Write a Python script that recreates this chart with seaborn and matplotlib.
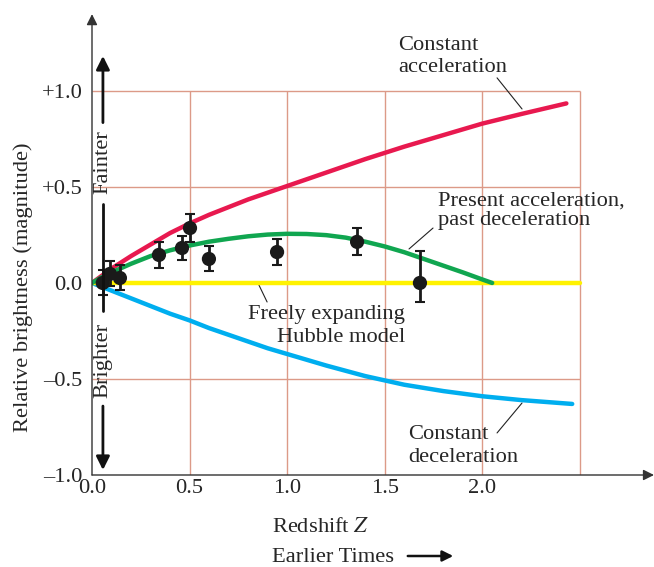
import matplotlib
matplotlib.use("Agg")
import matplotlib.pyplot as plt
import seaborn as sns
import numpy as np
import pandas as pd

# ---------------- data ----------------
red_x = [0, 0.1, 0.2, 0.3, 0.4, 0.5, 0.6, 0.7, 0.8, 0.9, 1.0, 1.2, 1.4, 1.6, 1.8, 2.0, 2.2, 2.43]
red_y = [0, 0.075, 0.14, 0.2, 0.26, 0.31, 0.355, 0.395, 0.435, 0.47, 0.505, 0.575, 0.645,
         0.71, 0.77, 0.83, 0.88, 0.935]

green_x = [0, 0.05, 0.1, 0.2, 0.3, 0.4, 0.5, 0.6, 0.7, 0.8, 0.9, 1.0, 1.1, 1.2, 1.3, 1.4,
           1.5, 1.6, 1.7, 1.8, 1.9, 2.0, 2.05]
green_y = [0, 0.03, 0.055, 0.10, 0.14, 0.17, 0.195, 0.215, 0.23, 0.243, 0.252, 0.256,
           0.255, 0.249, 0.236, 0.215, 0.19, 0.16, 0.125, 0.09, 0.055, 0.018, 0.0]

blue_x = [0, 0.1, 0.2, 0.3, 0.4, 0.5, 0.6, 0.7, 0.8, 0.9, 1.0, 1.2, 1.4, 1.6, 1.8, 2.0, 2.2, 2.46]
blue_y = [0, -0.04, -0.08, -0.12, -0.16, -0.195, -0.235, -0.27, -0.305, -0.34, -0.37,
          -0.43, -0.485, -0.53, -0.563, -0.59, -0.61, -0.63]

yellow_x = [0, 2.5]
yellow_y = [0, 0]

obs_z = [0.055, 0.092, 0.143, 0.343, 0.461, 0.502, 0.599, 0.948, 1.358, 1.680]
obs_m = [0.0, 0.047, 0.026, 0.146, 0.182, 0.286, 0.125, 0.161, 0.214, 0.0]
obs_err_lo = [0.065, 0.065, 0.065, 0.068, 0.065, 0.073, 0.065, 0.068, 0.07, 0.10]
obs_err_hi = [0.065, 0.065, 0.065, 0.068, 0.065, 0.073, 0.065, 0.068, 0.07, 0.167]

x_ticks = [0.0, 0.5, 1.0, 1.5, 2.0]
x_ticklabels = ["0.0", "0.5", "1.0", "1.5", "2.0"]
y_ticks = [-1.0, -0.5, 0.0, 0.5, 1.0]
y_ticklabels = ["\u20131.0", "\u20130.5", "0.0", "+0.5", "+1.0"]
grid_x = [0.5, 1.0, 1.5, 2.0, 2.5]
grid_y = [-0.5, 0.0, 0.5, 1.0]

# ---------------- style ----------------
sns.set_theme(style="white")
plt.rcParams["font.family"] = ["Liberation Serif", "DejaVu Serif"]
plt.rcParams["mathtext.fontset"] = "stix"
FS = 16.2
TXT = "#262626"
GRID = "#dc9a88"

fig = plt.figure(figsize=(6.54, 5.67), dpi=100)
ax = fig.add_axes([92 / 654, 92 / 567, 562 / 654, 463 / 567])
ax.set_xlim(0, 2.879)
ax.set_ylim(-1.0, 1.411)
for s in ax.spines.values():
    s.set_visible(False)

# grid / box
ax.vlines(grid_x, -1.0, 1.0, color=GRID, lw=1.0, zorder=1)
ax.hlines(grid_y, 0, 2.5, color=GRID, lw=1.0, zorder=1)

# axes arrows
axis_arrow = dict(arrowstyle="-|>", lw=1.0, color="#333333", mutation_scale=16,
                  shrinkA=0, shrinkB=0)
ax.annotate("", xy=(0, 1.40), xytext=(0, -1.0), arrowprops=axis_arrow,
            annotation_clip=False, zorder=6)
ax.annotate("", xy=(2.879, -1.0), xytext=(0, -1.0), arrowprops=axis_arrow,
            annotation_clip=False, zorder=6)

# curves
lkw = dict(lw=3.2, solid_capstyle="round", solid_joinstyle="round")
sns.lineplot(x=blue_x, y=blue_y, ax=ax, color="#00aeef", zorder=3, **lkw)
sns.lineplot(x=red_x, y=red_y, ax=ax, color="#e8194f", zorder=3, **lkw)
sns.lineplot(x=yellow_x, y=yellow_y, ax=ax, color="#fff200", zorder=3, lw=3.2)
sns.lineplot(x=green_x, y=green_y, ax=ax, color="#10a650", zorder=4, **lkw)

# observations
ax.errorbar(obs_z, obs_m, yerr=[obs_err_lo, obs_err_hi], fmt="none",
            ecolor="#1a1a1a", elinewidth=2.0, capsize=3.5, capthick=1.5, zorder=5)
sns.scatterplot(x=obs_z, y=obs_m, ax=ax, color="#1a1a1a", s=105,
                edgecolor="none", zorder=6)

# Fainter / Brighter arrow
fb_x = 0.056
bold_arrow = dict(arrowstyle="-|>", lw=2.0, color="#111111", mutation_scale=20,
                  shrinkA=0, shrinkB=0)
ax.annotate("", xy=(fb_x, 1.182), xytext=(fb_x, 0.835), arrowprops=bold_arrow, zorder=6)
ax.annotate("", xy=(fb_x, -0.974), xytext=(fb_x, -0.641), arrowprops=bold_arrow, zorder=6)
ax.plot([fb_x, fb_x], [0.41, -0.146], color="#111111", lw=2.0, zorder=6)
ax.text(fb_x, 0.63, "Fainter", rotation=90, ha="center", va="center",
        fontsize=FS, color=TXT, zorder=7)
ax.text(fb_x, -0.401, "Brighter", rotation=90, ha="center", va="center",
        fontsize=FS, color=TXT, zorder=7)

# annotations
lead = dict(color="#222222", lw=0.8)
ax.text(1.568, 1.18, "Constant\nacceleration", ha="left", va="center",
        fontsize=FS, color=TXT, linespacing=1.2)
ax.plot([2.075, 2.203], [1.068, 0.906], **lead)

ax.text(1.773, 0.375, "Present acceleration,\npast deceleration", ha="left",
        va="center", fontsize=FS, color=TXT, linespacing=1.07)
ax.plot([1.747, 1.624], [0.286, 0.177], **lead)

ax.text(1.603, -0.224, "Freely expanding\nHubble model", ha="right",
        va="center", multialignment="right", fontsize=FS, color=TXT, linespacing=1.33)
ax.plot([0.850, 0.897], [0.0, -0.099], **lead)

ax.text(1.619, -0.849, "Constant\ndeceleration", ha="left", va="center",
        fontsize=FS, color=TXT, linespacing=1.25)
ax.plot([2.075, 2.203], [-0.781, -0.625], **lead)

# ticks
ax.set_xticks(x_ticks)
ax.set_xticklabels(x_ticklabels)
ax.set_yticks(y_ticks)
ax.set_yticklabels(y_ticklabels)
ax.tick_params(axis="both", length=0, labelsize=FS, colors=TXT)
ax.tick_params(axis="y", pad=7)
ax.tick_params(axis="x", pad=3)

# labels
ax.set_ylabel("Relative brightness (magnitude)", fontsize=FS, color=TXT)
ax.yaxis.set_label_coords(-0.105, 0.406)
ax.set_xlabel("")
fig.text(272 / 654, 1 - 528 / 567, "Redshift $Z$", ha="left", va="center",
         fontsize=FS, color=TXT)
fig.text(272 / 654, 1 - 557 / 567, "Earlier Times", ha="left", va="center",
         fontsize=FS, color=TXT)
fig.add_artist(matplotlib.patches.FancyArrowPatch(
    (405 / 654, 1 - 556 / 567), (456 / 654, 1 - 556 / 567),
    transform=fig.transFigure, arrowstyle="-|>", mutation_scale=16,
    lw=1.8, color="#111111"))

fig.savefig("out.png", dpi=100)
